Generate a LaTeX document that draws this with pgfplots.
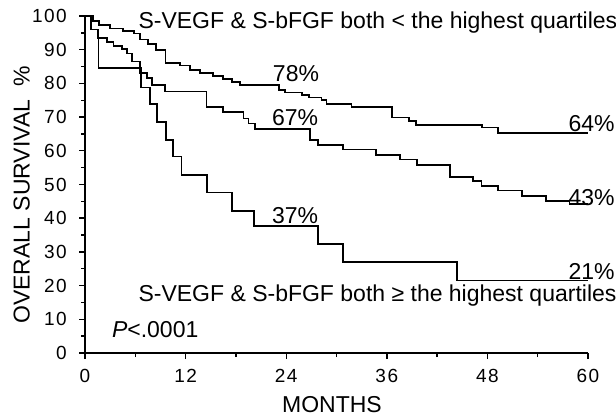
\documentclass[border=0pt]{standalone}
\usepackage{fontspec}
\setmainfont{Liberation Sans}
\newfontfamily\tickfont[LetterSpace=8]{Liberation Sans}
\usepackage{pgfplots}
\pgfplotsset{compat=1.18}
\newcommand\tickfontsize{\tickfont\fontsize{19bp}{21bp}\selectfont}
\begin{document}
\begin{tikzpicture}
\useasboundingbox (-85bp,-64bp) rectangle (531bp,353bp);
\begin{axis}[
  at={(0,0)}, anchor=south west,
  scale only axis, width=503bp, height=337bp,
  xmin=0, xmax=60, ymin=0, ymax=100,
  axis lines=left, axis line style={-, line width=1.6bp},
  clip=false,
  xtick={0,12,24,36,48,60}, minor x tick num=1,
  ytick={0,10,...,100}, minor y tick num=1,
  tick align=outside,
  major tick length=6bp, minor tick length=4bp,
  every tick/.style={line width=1.4bp, black},
  /pgf/number format/assume math mode=true,
  xticklabel style={font=\tickfontsize, yshift=-10bp},
  yticklabel style={font=\tickfontsize, xshift=-12bp},
  xlabel={MONTHS},
  ylabel={OVERALL SURVIVAL\ \ \%},
  label style={font=\fontsize{23bp}{27bp}\selectfont},
  xlabel style={at={(axis description cs:0.491,-0.154)}, anchor=center},
  ylabel style={at={(axis description cs:-0.126,0.469)}, anchor=center},
  nodes={font=\fontsize{23bp}{27bp}\selectfont, inner sep=0pt},
]
% low group: S-VEGF & S-bFGF both < highest quartiles
\addplot[black, line width=1.8bp, const plot mark left, mark=none] coordinates {
(0,100) (1.0,98.5) (1.7,97.3) (3.0,96.3) (4.5,95.5) (5.8,94.8) (6.6,93.0)
(7.5,91.7) (8.5,90.0) (9.6,86.1) (11.3,85.3) (12.5,84.0) (13.7,83.2)
(15.3,82.2) (16.5,81.3) (17.5,80.5) (18.5,79.6) (23.1,78.0) (23.9,77.3)
(25.9,76.6) (26.7,75.8) (28.2,75.0) (28.8,74.0) (31.8,72.9) (36.6,69.9)
(38.6,68.9) (39.5,67.6) (47.4,66.9) (49.3,65.3) (60,65.3)
};
% intermediate group
\addplot[black, line width=1.8bp, const plot mark left, mark=none] coordinates {
(0,100) (0.7,96.0) (1.5,93.4) (2.6,92.4) (3.4,91.1) (4.4,90.1) (5.0,88.9)
(5.6,86.5) (6.6,83.2) (7.4,81.5) (8.0,79.5) (9.5,77.6) (14.5,73.0)
(16.5,71.4) (18.9,69.6) (19.5,68.1) (20.3,66.5) (26.8,63.2) (27.8,61.8)
(30.8,60.4) (34.7,58.8) (37.6,57.4) (39.6,55.9) (43.5,52.3) (46.3,51.0)
(47.3,49.6) (49.3,48.2) (52.1,46.6) (55.0,45.1) (57.8,44.1) (60,44.1)
};
% high group: both >= highest quartiles
\addplot[black, line width=1.8bp, const plot mark left, mark=none] coordinates {
(0,100) (0.7,96.0) (1.6,84.5) (6.7,78.8) (7.75,73.8) (8.6,68.5) (9.7,63.2)
(10.5,58.3) (11.5,52.8) (14.6,47.6) (17.5,42.2) (20.2,37.7) (27.8,32.3)
(30.8,27.0) (44.4,21.5) (60,21.5)
};
\node[anchor=base west] at (axis cs:6.36,96.4) {S-VEGF \& S-bFGF both < the highest quartiles};
\node[anchor=base west] at (axis cs:6.36,15.2) {S-VEGF \& S-bFGF both ≥ the highest quartiles};
\node[anchor=base west] at (axis cs:3.2,4.6) {\textit{P}<.0001};
\node[anchor=base west] at (axis cs:22.4,80.5) {78\%};
\node[anchor=base west] at (axis cs:22.3,67.4) {67\%};
\node[anchor=base west] at (axis cs:22.3,38.5) {37\%};
\node[anchor=base east] at (axis cs:63.2,65.7) {64\%};
\node[anchor=base east] at (axis cs:63.2,43.7) {43\%};
\node[anchor=base east] at (axis cs:63.2,21.7) {21\%};
\end{axis}
\end{tikzpicture}
\end{document}
